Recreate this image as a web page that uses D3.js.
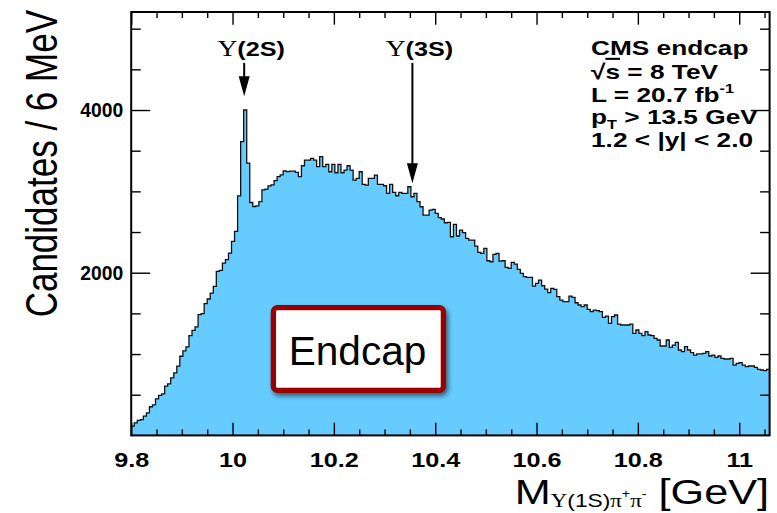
<!DOCTYPE html>
<html>
<head>
<meta charset="utf-8">
<script src="https://cdn.jsdelivr.net/npm/d3@7"></script>
<style>
  html, body { margin: 0; padding: 0; background: #fff; }
  svg { display: block; }
  text { font-family: "Liberation Sans", Arial, Helvetica, sans-serif; }
</style>
</head>
<body>
<svg id="chart" width="777" height="513"></svg>
<script>
// Dipion invariant-mass spectrum, 6 MeV bins starting at 9.8 GeV
const binStart = 9.8;
const binWidth = 0.006;
const counts = [
  115, 155, 184, 195, 237, 278, 352, 376, 450, 491,
  511, 605, 634, 708, 769, 851, 973, 1039, 1088, 1227,
  1292, 1333, 1485, 1497, 1620, 1677, 1750, 1832, 2016, 2029,
  2119, 2160, 2241, 2384, 2507, 2945, 3611, 4000, 3346, 2863,
  2814, 2822, 2875, 3018, 3027, 3068, 3080, 3133, 3182, 3202,
  3252, 3243, 3249, 3249, 3233, 3180, 3315, 3385, 3385, 3405,
  3385, 3303, 3426, 3303, 3331, 3241, 3331, 3229, 3331, 3229,
  3262, 3315, 3262, 3139, 3159, 3241, 3086, 3077, 3159, 3159,
  3200, 3086, 3086, 3069, 2975, 3086, 2987, 2946, 2987, 2975,
  2975, 3057, 2934, 2975, 2873, 2811, 2709, 2709, 2770, 2778,
  2729, 2676, 2660, 2614, 2618, 2442, 2594, 2451, 2524, 2492,
  2422, 2401, 2401, 2328, 2250, 2238, 2299, 2147, 2135, 2225,
  2238, 2143, 2147, 2066, 2053, 2127, 2106, 2041, 1992, 1951,
  1943, 1943, 1836, 1869, 1910, 1840, 1799, 1754, 1807, 1795,
  1705, 1664, 1644, 1644, 1713, 1697, 1631, 1603, 1582, 1603,
  1549, 1521, 1541, 1533, 1521, 1451, 1467, 1377, 1459, 1480,
  1369, 1357, 1357, 1357, 1369, 1255, 1296, 1255, 1226, 1275,
  1234, 1226, 1193, 1173, 1099, 1099, 1173, 1083, 1111, 1144,
  1050, 1029, 1091, 1050, 1017, 988, 1001, 1001, 1009, 1029,
  976, 988, 960, 976, 947, 939, 939, 947, 865, 886,
  894, 865, 845, 853, 853, 837, 812, 804, 796, 812
];

// Axis ranges and ticks
const xDomain = [9.8, 11.06];
const yDomain = [0, 5205];
const xMajorTicks = [9.8, 10.0, 10.2, 10.4, 10.6, 10.8, 11.0];
const xTickLabels = ["9.8", "10", "10.2", "10.4", "10.6", "10.8", "11"];
const xMinorTicks = [9.85, 9.9, 9.95, 10.05, 10.1, 10.15, 10.25, 10.3, 10.35,
  10.45, 10.5, 10.55, 10.65, 10.7, 10.75, 10.85, 10.9, 10.95, 11.05];
const yMajorTicks = [2000, 4000];
const yTickLabels = ["2000", "4000"];
const yMinorTicks = [500, 1000, 1500, 2500, 3000, 3500, 4500, 5000];

// Resonance markers: name, mass [GeV], arrow tip height [candidates]
const resonanceNames = ["2S", "3S"];
const resonanceMasses = [10.023, 10.355];
const resonanceTips = [4170, 3100];

// Text block in the upper right
const infoLines = ["CMS endcap", "√s = 8 TeV", "L = 20.7 fb-1", "pT > 13.5 GeV", "1.2 < |y| < 2.0"];

(function draw() {
  const TX = 1.2; // horizontal text stretch

  const svg = d3.select("#chart");
  const left = 131.2, right = 769.6, plotTop = 12, plotBottom = 435.4;

  const x = d3.scaleLinear().domain(xDomain).range([left, right]);
  const y = d3.scaleLinear().domain(yDomain).range([plotBottom, plotTop]);

  // histogram as step area
  const pts = counts.map((c, i) => [binStart + i * binWidth, c]);
  pts.push([binStart + counts.length * binWidth, counts[counts.length - 1]]);

  const area = d3.area()
    .x(d => x(d[0])).y0(y(0)).y1(d => y(d[1]))
    .curve(d3.curveStepAfter);
  const line = d3.line()
    .x(d => x(d[0])).y(d => y(d[1]))
    .curve(d3.curveStepAfter);

  const defs = svg.append("defs");
  defs.append("clipPath").attr("id", "plotClip")
    .append("rect").attr("x", left).attr("y", plotTop)
    .attr("width", right - left).attr("height", plotBottom - plotTop);

  const plot = svg.append("g").attr("clip-path", "url(#plotClip)");
  plot.append("path").datum(pts).attr("d", area).attr("fill", "#66ccff");
  plot.append("path").datum(pts).attr("d", line)
    .attr("fill", "none").attr("stroke", "#111").attr("stroke-width", 1.3);

  // axes (inward ticks on all four sides)
  function styleAxis(g) {
    g.select(".domain").remove();
    g.selectAll(".tick line").attr("stroke", "#000").attr("stroke-width", 1.4);
  }
  function stretchText(sel, k) {
    sel.each(function () {
      const t = d3.select(this);
      const xv = +(t.attr("x") || 0);
      t.attr("x", xv / k).attr("transform", `scale(${k},1)`);
    });
  }

  const bx = svg.append("g").attr("transform", `translate(0,${plotBottom})`)
    .call(d3.axisBottom(x).tickValues(xMajorTicks).tickSize(-12.7).tickPadding(16.5)
      .tickFormat((d, i) => xTickLabels[i]));
  styleAxis(bx);
  bx.selectAll("text").attr("font-size", 21).attr("font-weight", "bold").attr("fill", "#000");
  stretchText(bx.selectAll("text"), TX);

  svg.append("g").attr("transform", `translate(0,${plotBottom})`)
    .call(d3.axisBottom(x).tickValues(xMinorTicks).tickSize(-6).tickFormat(""))
    .call(styleAxis);
  svg.append("g").attr("transform", `translate(0,${plotTop})`)
    .call(d3.axisTop(x).tickValues(xMajorTicks).tickSize(-12.7).tickFormat(""))
    .call(styleAxis);
  svg.append("g").attr("transform", `translate(0,${plotTop})`)
    .call(d3.axisTop(x).tickValues(xMinorTicks).tickSize(-6).tickFormat(""))
    .call(styleAxis);

  const ly = svg.append("g").attr("transform", `translate(${left},0)`)
    .call(d3.axisLeft(y).tickValues(yMajorTicks).tickSize(-19).tickPadding(8)
      .tickFormat((d, i) => yTickLabels[i]));
  styleAxis(ly);
  ly.selectAll("text").attr("font-size", 21).attr("font-weight", "bold").attr("fill", "#000");
  stretchText(ly.selectAll("text"), 0.92);

  svg.append("g").attr("transform", `translate(${left},0)`)
    .call(d3.axisLeft(y).tickValues(yMinorTicks).tickSize(-9.5).tickFormat(""))
    .call(styleAxis);
  svg.append("g").attr("transform", `translate(${right},0)`)
    .call(d3.axisRight(y).tickValues(yMajorTicks).tickSize(-19).tickFormat(""))
    .call(styleAxis);
  svg.append("g").attr("transform", `translate(${right},0)`)
    .call(d3.axisRight(y).tickValues(yMinorTicks).tickSize(-9.5).tickFormat(""))
    .call(styleAxis);

  // frame
  svg.append("rect").attr("x", left).attr("y", plotTop)
    .attr("width", right - left).attr("height", plotBottom - plotTop)
    .attr("fill", "none").attr("stroke", "#000").attr("stroke-width", 2);

  // axis titles
  svg.append("g").attr("transform", "translate(57,10) rotate(-90) scale(1,1.28)")
    .append("text").attr("text-anchor", "end").attr("font-size", 35)
    .text("Candidates / 6 MeV");

  const serif = "'Liberation Serif', 'DejaVu Serif', serif";
  const xt = svg.append("g").attr("transform", `translate(769,504) scale(${TX},1)`)
    .append("text").attr("text-anchor", "end").attr("font-size", 36);
  xt.append("tspan").text("M");
  xt.append("tspan").attr("font-size", 19).attr("dy", 3).attr("font-family", serif).text("Υ");
  xt.append("tspan").attr("font-size", 19).text("(1S)");
  xt.append("tspan").attr("font-size", 19).attr("font-family", serif).text("π");
  xt.append("tspan").attr("font-size", 12).attr("dy", -9).text("+");
  xt.append("tspan").attr("font-size", 19).attr("dy", 9).attr("font-family", serif).text("π");
  xt.append("tspan").attr("font-size", 12).attr("dy", -9).text("-");
  xt.append("tspan").attr("font-size", 36).attr("dy", 6).text(" [GeV]");

  // resonance arrows and labels
  resonanceNames.forEach((name, i) => {
    const ax = x(resonanceMasses[i]);
    const tipY = y(resonanceTips[i]);
    svg.append("line").attr("x1", ax).attr("x2", ax).attr("y1", 63).attr("y2", tipY - 16)
      .attr("stroke", "#000").attr("stroke-width", 2);
    svg.append("path")
      .attr("d", `M${ax - 5.5},${tipY - 20} L${ax + 5.5},${tipY - 20} L${ax},${tipY} Z`)
      .attr("fill", "#000");
    const lab = svg.append("g").attr("transform", `translate(${ax + 7},56) scale(${TX},1)`)
      .append("text").attr("text-anchor", "middle").attr("font-size", 21);
    lab.append("tspan").attr("font-family", serif).attr("font-size", 23).text("Υ");
    lab.append("tspan").attr("font-weight", "bold").text("(" + name + ")");
  });

  // info text block
  const infoBase = [55, 79, 102, 124, 147];
  infoLines.forEach((s, i) => {
    const t = svg.append("g").attr("transform", `translate(591,${infoBase[i]}) scale(1.25,1)`)
      .append("text").attr("font-size", 21).attr("font-weight", "bold");
    if (i === 1) {
      t.append("tspan").text("√");
      t.append("tspan").style("text-decoration", "overline").text("s");
      t.append("tspan").text(" = 8 TeV");
    } else if (i === 2) {
      t.append("tspan").text("L = 20.7 fb");
      t.append("tspan").attr("font-size", 13).attr("dy", -9).text("-1");
    } else if (i === 3) {
      t.append("tspan").text("p");
      t.append("tspan").attr("font-size", 13).attr("dy", 5).text("T");
      t.append("tspan").attr("dy", -5).text(" > 13.5 GeV");
    } else {
      t.text(s);
    }
  });

  // "Endcap" tag
  const f = defs.append("filter").attr("id", "shadow").attr("x", "-20%").attr("y", "-20%")
    .attr("width", "140%").attr("height", "150%");
  f.append("feDropShadow").attr("dx", 2).attr("dy", 3).attr("stdDeviation", 2.5)
    .attr("flood-color", "#000").attr("flood-opacity", 0.55);
  svg.append("rect").attr("x", 273.4).attr("y", 307.7).attr("width", 170).attr("height", 82.7)
    .attr("rx", 4).attr("fill", "#fff").attr("stroke", "#990000").attr("stroke-width", 5.3)
    .attr("filter", "url(#shadow)");
  svg.append("text").attr("x", 357.5).attr("y", 365).attr("text-anchor", "middle")
    .attr("font-family", "'Open Sans', 'Noto Sans', sans-serif").attr("font-size", 40.6)
    .attr("fill", "#000").text("Endcap");
})();
</script>
</body>
</html>
